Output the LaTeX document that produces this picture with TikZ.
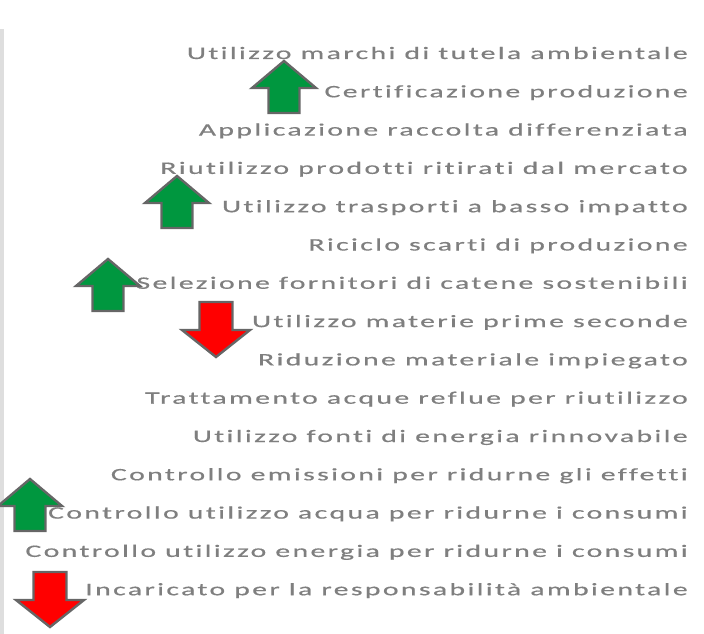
\documentclass[tikz,border=0pt]{standalone}
\usepackage{fontspec}
\usepackage{xcolor}
\usepackage{tikz}
\usetikzlibrary{positioning}
\newfontfamily\voce[FakeStretch=1.7,LetterSpace=13.5,FakeBold=0.6,Ligatures=NoCommon]{Carlito}
\definecolor{testo}{HTML}{7F7F7F}
\definecolor{verde}{HTML}{00973F}
\definecolor{rosso}{HTML}{FF0000}
\definecolor{bordo}{HTML}{666666}
\tikzset{
freccia/.style={draw=bordo,line width=2.4pt,line join=miter},
su/.pic={
  \filldraw[freccia,fill=verde]
    (0,0) -- (32,27) -- (15.5,27) -- (15.5,52) -- (-15.5,52)
    -- (-15.5,27) -- (-32,27) -- cycle;
  },
giu/.pic={
  \filldraw[freccia,fill=rosso]
    (0,0) -- (34,-27) -- (16.5,-27) -- (16.5,-55) -- (-16.5,-55)
    -- (-16.5,-27) -- (-34,-27) -- cycle;
  },
voce/.style={anchor=base east,inner sep=0pt,text=testo,
  font=\voce\fontsize{17.5}{20}\selectfont}
}
\begin{document}
\begin{tikzpicture}[x=1pt,y=-1pt]
\useasboundingbox (0,0) rectangle (704,634);
% the bar
\fill[black!13] (0,29) rectangle (4,634);
% the labels
\coordinate (r) at (688,59);
\foreach \Testo [count=\i from 0] in {
  Utilizzo marchi di tutela ambientale,
  Certificazione produzione,
  Applicazione raccolta differenziata,
  Riutilizzo prodotti ritirati dal mercato,
  Utilizzo trasporti a basso impatto,
  Riciclo scarti di produzione,
  Selezione fornitori di catene sostenibili,
  Utilizzo materie prime seconde,
  Riduzione materiale impiegato,
  Trattamento acque reflue per riutilizzo,
  Utilizzo fonti di energia rinnovabile,
  Controllo emissioni per ridurne gli effetti,
  Controllo utilizzo acqua per ridurne i consumi,
  Controllo utilizzo energia per ridurne i consumi,
  Incaricato per la responsabilità ambientale}
  \node[voce] (v-\i) at ([yshift=-\i*38.3pt]r) {\Testo};
% the arrows
\path
  (284,61) pic {su}
  (177,176) pic {su}
  (108,259) pic {su}
  (30,479) pic {su};
\path
  (216,357) pic {giu}
  (50,627) pic {giu};
\end{tikzpicture}
\end{document}
